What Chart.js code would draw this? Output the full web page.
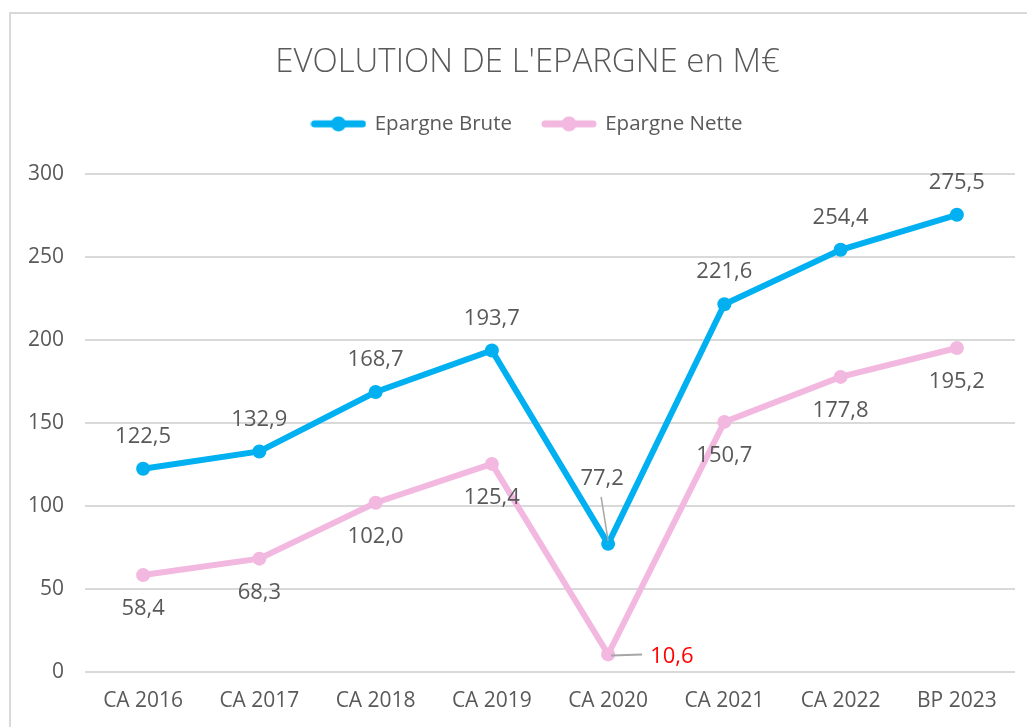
<!DOCTYPE html>
<html>
<head>
<meta charset="utf-8">
<script src="https://cdn.jsdelivr.net/npm/chart.js@4/dist/chart.umd.min.js"></script>
<style>
  html, body { margin: 0; padding: 0; background: #ffffff; }
  #wrap { position: relative; width: 1027px; height: 727px; overflow: hidden; }
  #frame { position: absolute; left: 9px; top: 12px; width: 1100px; height: 800px;
           border-left: 2px solid #d9d9d9; border-top: 2px solid #d9d9d9; box-sizing: border-box; }
  #c { position: absolute; left: 0; top: 0; }
</style>
</head>
<body>
<div id="wrap">
  <div id="frame"></div>
  <canvas id="c" width="1027" height="727" style="width:1027px;height:727px"></canvas>
</div>
<script>
// ---- data ----
const categories = ['CA 2016', 'CA 2017', 'CA 2018', 'CA 2019', 'CA 2020', 'CA 2021', 'CA 2022', 'BP 2023'];
const epargneBrute = [122.5, 132.9, 168.7, 193.7, 77.2, 221.6, 254.4, 275.5];
const epargneNette = [58.4, 68.3, 102.0, 125.4, 10.6, 150.7, 177.8, 195.2];
const yTicks = [0, 50, 100, 150, 200, 250, 300];
const seriesNames = ['Epargne Brute', 'Epargne Nette'];
const chartTitle = "EVOLUTION DE L'EPARGNE en M€";

// label placement (style only)
const brutePlacement = ['above', 'above', 'above', 'above', 'leaderAbove', 'above', 'above', 'above'];
const nettePlacement = ['below', 'below', 'below', 'below', 'leaderRight', 'below', 'below', 'below'];

const BLUE = '#00b0f0';
const PINK = '#f2b8df';
const TXT = '#595959';
const FONT = '"Open Sans", "Noto Sans", sans-serif';

function legendIcon(color) {
  const c = document.createElement('canvas');
  c.width = 56; c.height = 16;
  const x = c.getContext('2d');
  x.strokeStyle = color; x.lineWidth = 7; x.lineCap = 'round';
  x.beginPath(); x.moveTo(4, 8); x.lineTo(52, 8); x.stroke();
  x.fillStyle = color; x.beginPath(); x.arc(28, 8, 7.5, 0, Math.PI * 2); x.fill();
  return c;
}
const icons = [legendIcon(BLUE), legendIcon(PINK)];

const fmt = v => v.toFixed(1).replace('.', ',');

const headerLayout = {
  id: 'headerLayout',
  beforeLayout(chart) {
    const lg = chart.legend;
    if (lg && !lg._spaced) {
      const orig = lg.fit;
      lg.fit = function () { orig.call(this); this.height += 30; };
      lg._spaced = true;
    }
  },
  afterLayout(chart) {
    const shift = 20;
    [chart.titleBlock, chart.legend].forEach(b => {
      if (b) { b.left += shift; b.right += shift; }
    });
  }
};

const labelPlugin = {
  id: 'valueLabels',
  afterDatasetsDraw(chart) {
    const ctx = chart.ctx;
    const placements = [brutePlacement, nettePlacement];
    ctx.save();
    ctx.font = '22px ' + FONT;
    ctx.textBaseline = 'middle';
    chart.data.datasets.forEach((ds, di) => {
      const meta = chart.getDatasetMeta(di);
      meta.data.forEach((pt, i) => {
        const txt = fmt(ds.data[i]);
        const p = placements[di][i];
        ctx.fillStyle = TXT;
        ctx.textAlign = 'center';
        if (p === 'above') {
          ctx.fillText(txt, pt.x, pt.y - 32);
        } else if (p === 'below') {
          ctx.fillText(txt, pt.x, pt.y + 34);
        } else if (p === 'leaderAbove') {
          ctx.strokeStyle = '#a6a6a6'; ctx.lineWidth = 1.5;
          ctx.beginPath(); ctx.moveTo(pt.x - 7, pt.y - 47); ctx.lineTo(pt.x, pt.y - 3); ctx.stroke();
          ctx.fillText(txt, pt.x - 6, pt.y - 65);
        } else if (p === 'leaderRight') {
          ctx.strokeStyle = '#a6a6a6'; ctx.lineWidth = 2;
          ctx.beginPath(); ctx.moveTo(pt.x + 3, pt.y + 1); ctx.lineTo(pt.x + 34, pt.y); ctx.stroke();
          ctx.fillStyle = '#ff0000';
          ctx.textAlign = 'left';
          ctx.fillText(txt, pt.x + 42, pt.y + 2);
        }
      });
    });
    ctx.restore();
  }
};

const chart = new Chart(document.getElementById('c'), {
  type: 'line',
  data: {
    labels: categories,
    datasets: [
      { label: seriesNames[0], data: epargneBrute, borderColor: BLUE, backgroundColor: BLUE,
        borderWidth: 6, pointRadius: 7, pointBorderWidth: 0, pointBackgroundColor: BLUE, tension: 0 },
      { label: seriesNames[1], data: epargneNette, borderColor: PINK, backgroundColor: PINK,
        borderWidth: 6, pointRadius: 7, pointBorderWidth: 0, pointBackgroundColor: PINK, tension: 0 }
    ]
  },
  options: {
    responsive: false,
    animation: false,
    events: [],
    layout: { padding: { left: 0, right: 12, top: 0, bottom: 14 } },
    plugins: {
      tooltip: { enabled: false },
      title: {
        display: true, text: chartTitle, color: TXT,
        font: { family: FONT, size: 33, weight: '300', lineHeight: 1.2 },
        padding: { top: 43, bottom: 0 }
      },
      legend: {
        display: true, position: 'top',
        labels: {
          color: TXT, font: { family: FONT, size: 20.5 },
          usePointStyle: true, pointStyleWidth: 52, boxHeight: 16, padding: 31,
          generateLabels(ch) {
            return ch.data.datasets.map((ds, i) => ({
              text: ds.label, pointStyle: icons[i], fillStyle: ds.borderColor,
              strokeStyle: ds.borderColor, lineWidth: 0, fontColor: TXT, datasetIndex: i, hidden: false
            }));
          }
        }
      }
    },
    scales: {
      x: {
        offset: true,
        afterFit(axis) { axis.height = 41; },
        grid: { display: false, drawTicks: false },
        border: { display: false },
        ticks: { color: TXT, font: { family: FONT, size: 21 }, padding: 16, maxRotation: 0, autoSkip: false }
      },
      y: {
        min: yTicks[0], max: yTicks[yTicks.length - 1],
        afterFit(axis) { axis.width = 85; },
        afterBuildTicks(axis) { axis.ticks = yTicks.map(v => ({ value: v })); },
        grid: { color: '#d9d9d9', lineWidth: 2, drawTicks: false },
        border: { display: false },
        ticks: { color: TXT, font: { family: FONT, size: 21 }, padding: 21 }
      }
    }
  },
  plugins: [headerLayout, labelPlugin]
});
</script>
</body>
</html>
